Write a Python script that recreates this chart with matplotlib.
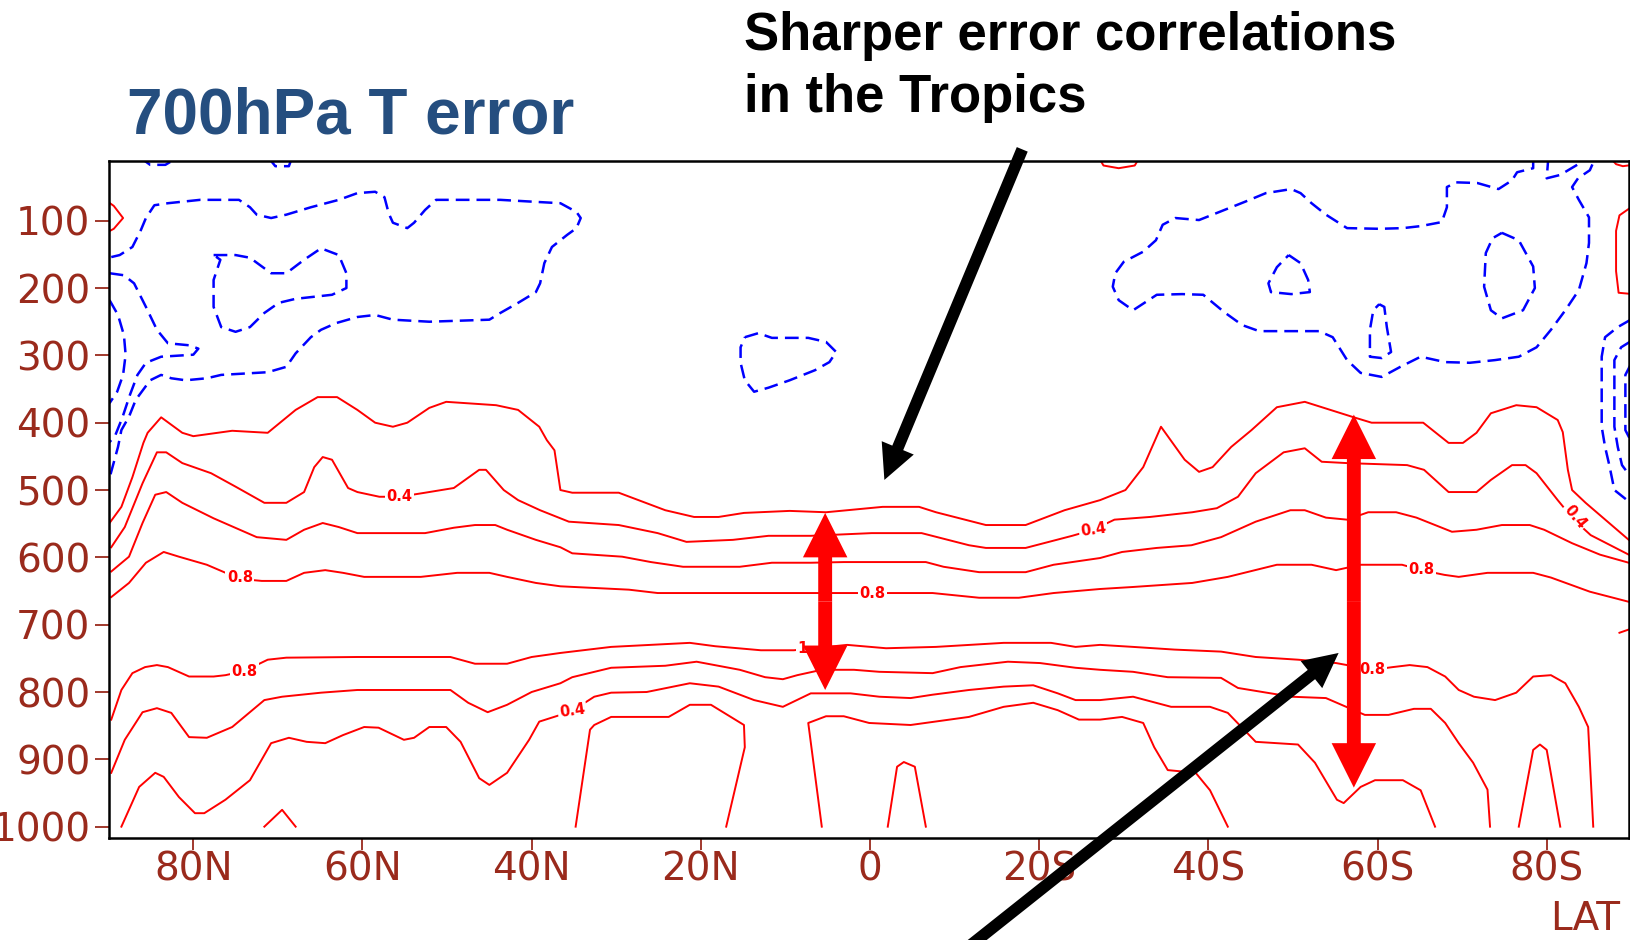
import matplotlib
matplotlib.use("Agg")
import matplotlib.pyplot as plt
from matplotlib.patches import FancyArrowPatch


# positive (red, solid) contours, latitude in degrees (N > 0) and pressure in hPa
U1_LAT = [89.9, 88.5, 87.2, 85.9, 85.4, 83.8, 81.3, 80.0, 75.4, 71.2, 67.9, 65.3, 63.0, 60.6, 58.5,
          56.4, 54.7, 52.1, 50.1, 44.2, 41.6, 39.1, 38.2, 37.3, 36.6, 35.2, 29.7, 24.2, 20.8, 17.9,
          14.9, 9.5, 5.2, -1.5, -5.8, -7.8, -13.7, -18.4, -23.0, -27.2, -30.2, -32.3, -34.4, -37.2,
          -38.9, -40.5, -42.7, -45.1, -48.1, -51.4, -57.2, -59.3, -65.4, -68.4, -70.1, -71.7, -73.4,
          -76.4, -78.8, -81.3, -81.9, -82.5, -83.0, -84.6, -89.7]
U1_P = [549, 525, 481, 430, 415, 392, 415, 420, 412, 415, 381, 362, 362, 381, 400, 406, 400, 378,
        369, 374, 381, 406, 426, 441, 500, 504, 504, 530, 540, 540, 534, 531, 533, 525, 525, 533,
        552, 552, 530, 515, 500, 466, 406, 455, 473, 466, 436, 411, 377, 369, 392, 400, 400, 430,
        430, 415, 386, 374, 377, 396, 414, 470, 500, 519, 574]

U2_LAT = [89.7, 88.1, 86.0, 84.3, 83.2, 81.3, 77.9, 75.0, 71.6, 69.0, 66.9, 65.7, 64.7, 63.6, 61.7,
          60.6, 58.0, 55.6, 52.6, 49.2, 46.2, 45.4, 43.3, 41.6, 39.0, 35.6, 29.7, 25.1, 21.7, 16.2,
          12.0, 7.0, -0.2, -6.1, -11.7, -13.7, -18.4, -23.9, -26.4, -28.9, -33.1, -38.1, -41.0,
          -43.5, -45.6, -48.9, -51.4, -53.4, -56.4, -63.5, -65.5, -68.4, -71.7, -73.4, -75.9, -77.5,
          -78.8, -81.3, -83.2, -85.2, -89.7]
U2_P = [585, 555, 490, 444, 444, 460, 475, 495, 519, 519, 503, 466, 451, 455, 497, 503, 510, 510,
        504, 497, 470, 470, 500, 515, 530, 547, 552, 564, 577, 574, 568, 568, 564, 564, 582, 586,
        586, 568, 559, 544, 540, 533, 527, 510, 475, 444, 438, 458, 460, 463, 470, 503, 503, 485,
        463, 463, 475, 515, 544, 567, 596]

U3_LAT = [89.7, 87.6, 86.0, 84.5, 83.2, 81.3, 77.6, 72.5, 69.0, 66.9, 64.7, 62.8, 60.6, 52.6, 49.2,
          46.7, 44.3, 42.9, 39.5, 36.6, 35.2, 29.3, 25.9, 22.1, 15.4, 11.6, 7.0, 3.1, -6.6, -8.7,
          -12.9, -18.4, -21.7, -27.2, -29.8, -33.9, -38.0, -41.5, -45.6, -49.7, -51.4, -53.9, -56.4,
          -58.9, -62.2, -64.6, -68.8, -71.7, -74.7, -78.0, -79.7, -83.0, -86.3, -89.7]
U3_P = [621, 599, 549, 507, 503, 519, 542, 570, 574, 559, 549, 555, 564, 564, 556, 552, 552, 559,
        574, 585, 594, 599, 607, 614, 614, 608, 608, 607, 607, 614, 622, 622, 611, 601, 592, 586,
        582, 570, 547, 530, 530, 541, 544, 533, 533, 541, 562, 559, 552, 552, 559, 579, 596, 608]

U4_LAT = [89.7, 87.6, 85.6, 83.5, 81.7, 78.4, 74.5, 71.9, 69.0, 66.9, 64.4, 62.3, 59.8, 53.1, 48.8,
          45.0, 42.9, 39.5, 36.6, 28.5, 25.1, 2.3, -0.3, -3.2, -7.4, -12.9, -17.6, -21.7, -27.2,
          -31.1, -38.1, -42.3, -48.1, -52.2, -55.1, -58.0, -62.9, -65.2, -67.9, -69.6, -73.0, -78.4,
          -80.5, -85.1, -89.7]
U4_P = [659, 638, 608, 592, 599, 611, 632, 635, 635, 623, 619, 623, 629, 629, 623, 623, 629, 638,
        643, 648, 653, 653, 653, 653, 653, 660, 660, 653, 647, 644, 638, 629, 611, 611, 619, 611,
        611, 619, 626, 629, 623, 623, 630, 651, 666]

L1_LAT = [89.7, 88.5, 87.2, 85.7, 84.3, 83.0, 80.5, 77.6, 76.2, 74.0, 71.2, 69.0, 60.6, 49.6, 46.7,
          42.9, 40.0, 36.6, 30.6, 21.3, 18.3, 12.9, 9.0, 2.7, -1.9, -7.8, -15.8, -21.4, -24.3, -27.2,
          -31.1, -36.0, -41.5, -45.6, -50.6, -55.1, -59.4, -61.8, -63.8, -65.9, -68.0, -69.6, -71.4,
          -73.9, -76.4, -78.4, -80.5, -82.2, -83.8, -84.9, -85.5]
L1_P = [841, 797, 772, 763, 760, 763, 777, 777, 775, 769, 752, 749, 748, 748, 758, 758, 748, 742,
        733, 727, 732, 738, 738, 730, 735, 733, 727, 727, 733, 730, 733, 737, 740, 748, 752, 757,
        767, 763, 760, 763, 777, 797, 807, 812, 801, 777, 775, 787, 822, 852, 1000]

L2_LAT = [89.7, 88.1, 86.0, 84.3, 82.6, 80.5, 78.4, 75.4, 71.6, 69.5, 64.9, 60.6, 54.3, 49.6, 47.5,
          45.2, 42.9, 40.0, 36.6, 35.2, 30.6, 24.2, 20.5, 15.4, 12.4, 10.3, 8.6, 5.7, 1.9, -1.1,
          -7.4, -10.7, -16.3, -20.1, -24.3, -27.2, -31.1, -35.2, -41.5, -43.5, -49.8, -53.9, -58.5,
          -61.3, -64.3, -66.3, -68.0, -69.6, -71.3, -73.0, -73.3]
L2_P = [920, 871, 830, 824, 831, 867, 868, 852, 812, 807, 801, 797, 797, 797, 816, 830, 819, 800,
        787, 778, 764, 761, 755, 767, 778, 781, 775, 767, 767, 770, 772, 763, 755, 757, 764, 767,
        770, 778, 779, 794, 807, 809, 834, 834, 825, 825, 846, 876, 905, 945, 1000]

L3_LAT = [88.5, 86.4, 84.5, 83.5, 81.7, 79.8, 78.7, 76.2, 73.3, 70.8, 68.7, 66.6, 64.4, 62.3, 59.8,
          58.1, 55.1, 53.9, 52.1, 50.1, 48.4, 46.2, 45.0, 42.9, 40.3, 39.1, 36.6, 35.2, 32.6, 30.6,
          26.4, 21.3, 17.9, 13.7, 10.3, 7.0, 2.3, -1.1, -4.8, -7.4, -11.7, -15.8, -19.3, -22.2,
          -24.3, -27.2, -31.1, -35.6, -40.2, -42.3, -45.6, -50.6, -52.6, -55.2, -56.0, -58.0, -59.7,
          -63.0, -65.1, -66.8]
L3_P = [1000, 941, 920, 926, 956, 980, 980, 960, 931, 876, 868, 874, 876, 864, 852, 853, 871, 868,
        852, 852, 874, 928, 938, 920, 871, 844, 834, 828, 807, 801, 800, 787, 792, 812, 822, 802,
        802, 807, 809, 804, 797, 792, 790, 802, 812, 812, 807, 822, 822, 831, 874, 878, 905, 960,
        965, 941, 931, 931, 946, 1000]

L4A_LAT = [34.8, 33.1, 32.6, 30.6, 26.4, 23.8, 21.3, 18.8, 14.9, 14.8, 17.0]
L4A_P = [1000, 856, 849, 837, 837, 837, 819, 819, 849, 882, 1000]
L4B_LAT = [5.7, 7.3, 5.2, 3.1, 0.1, -4.8, -11.7, -15.8, -19.3, -22.2, -24.7, -27.2, -29.8, -32.3,
           -33.6, -35.2, -38.5, -40.2, -42.3]
L4B_P = [1000, 846, 836, 836, 846, 849, 837, 822, 816, 827, 841, 841, 837, 846, 882, 916, 920, 946,
         1000]

BUMP_EQ_LAT = [-2.1, -3.2, -4.0, -5.3, -6.6]
BUMP_EQ_P = [1000, 911, 904, 911, 1000]
BUMP_70N_LAT = [71.6, 69.5, 67.9]
BUMP_70N_P = [1000, 975, 1000]
BUMP_80S_LAT = [-76.7, -78.4, -79.2, -80.0, -81.6]
BUMP_80S_P = [1000, 886, 878, 886, 1000]

EDGE_NW_LAT = [90.3, 89.4, 88.3, 89.4, 90.3]
EDGE_NW_P = [70, 78, 96, 112, 118]
TOP_30S_LAT = [-27.0, -27.6, -29.4, -31.3, -31.9]
TOP_30S_P = [5, 18, 22, 18, 5]
TOP_90S_LAT = [-87.4, -88.2, -89.0, -90.2]
TOP_90S_P = [5, 16, 19, 17]
EDGE_SE_LAT = [-90.2, -88.6, -88.2, -88.2, -88.5, -90.2]
EDGE_SE_P = [78, 92, 115, 175, 207, 209]
EDGE_700_LAT = [-88.6, -90.2]
EDGE_700_P = [712, 705]

# negative (blue, dashed) contours
B1_LAT = [89.7, 88.7, 87.2, 86.2, 85.6, 84.6, 83.0, 79.2, 74.6, 73.3, 72.5, 70.8, 69.0, 66.1, 62.8,
          60.6, 58.5, 57.4, 56.9, 56.4, 54.7, 53.9, 52.6, 51.3, 48.4, 43.7, 39.5, 36.6, 34.7, 34.2,
          34.7, 35.8, 37.6, 38.5, 39.0, 39.5, 41.6, 43.7, 45.0, 52.1, 56.4, 58.5, 60.6, 63.1, 64.9,
          66.1, 67.9, 69.0, 71.2, 76.7, 78.4, 80.9, 82.6, 83.8, 85.1, 86.8, 87.6, 88.5, 88.9, 89.9]
B1_P = [154, 151, 139, 114, 96, 77, 74, 69, 69, 80, 91, 96, 91, 80, 69, 59, 57, 65, 89, 103, 111,
        103, 84, 69, 69, 69, 72, 74, 87, 96, 111, 121, 139, 163, 193, 206, 222, 237, 247, 250, 247,
        240, 243, 252, 262, 273, 297, 317, 325, 329, 334, 337, 334, 329, 337, 366, 391, 411, 436,
        482]
B2_LAT = [89.9, 88.2, 87.0, 85.6, 84.3, 83.0, 80.5, 79.4, 80.0, 83.8, 85.6, 86.6, 87.5, 88.4, 89.2,
          89.9]
B2_P = [178, 181, 193, 228, 262, 282, 285, 290, 299, 302, 311, 329, 359, 393, 418, 429]
B3_LAT = [89.9, 88.9, 88.2, 88.0, 88.3, 89.0, 89.9]
B3_P = [218, 240, 270, 299, 329, 354, 371]
B4_LAT = [77.6, 75.0, 73.3, 70.8, 69.0, 66.9, 64.9, 62.8, 61.9, 61.9, 63.6, 67.9, 69.9, 71.6, 73.3,
          75.0, 76.7, 77.6, 77.6, 76.8, 77.6]
B4_P = [151, 151, 155, 178, 178, 158, 141, 151, 178, 200, 210, 216, 222, 237, 258, 265, 258, 228,
        188, 158, 151]
B5_LAT = [14.8, 13.2, 11.6, 7.3, 5.2, 4.0, 4.8, 6.5, 9.5, 12.0, 13.7, 14.8, 15.3, 15.3, 14.8]
B5_P = [273, 267, 274, 274, 280, 295, 310, 322, 337, 348, 354, 337, 311, 288, 273]
B6_LAT = [-78.4, -78.4, -76.5, -75.9, -74.3, -71.8, -69.3, -68.2, -68.2, -67.6, -65.1, -63.0, -60.2,
          -56.4, -53.9, -52.2, -50.9, -49.8, -46.8, -44.3, -41.9, -38.9, -36.1, -34.6, -33.8, -32.3,
          -30.0, -29.0, -28.7, -29.4, -31.1, -33.9, -36.9, -39.4, -41.9, -44.0, -46.0, -53.1, -54.7,
          -56.4, -58.0, -60.5, -62.7, -65.1, -68.0, -70.9, -73.9, -76.7, -78.8, -80.5, -82.2, -83.8,
          -84.7, -85.0, -85.0, -83.8, -83.0, -83.7, -85.1, -85.8]
B6_P = [5, 22, 28, 40, 53, 44, 43, 50, 80, 102, 108, 111, 112, 111, 91, 74, 59, 53, 59, 72, 84, 99,
        96, 106, 129, 146, 161, 178, 198, 218, 233, 210, 209, 210, 236, 255, 264, 264, 273, 307, 326,
        332, 317, 302, 310, 311, 307, 302, 288, 262, 233, 203, 163, 133, 95, 69, 50, 37, 25, 5]
B6_LOBE_LAT = [-80.2, -80.0, -81.6, -83.6, -84.2]
B6_LOBE_P = [5, 37, 32, 17, 5]
B7_LAT = [-49.5, -50.9, -51.8, -52.0, -49.8, -47.4, -47.1, -48.1, -49.5]
B7_P = [151, 163, 188, 206, 209, 206, 193, 169, 151]
B8_LAT = [-60.2, -60.8, -61.1, -61.6, -60.5, -59.1, -59.1, -59.5, -60.2]
B8_P = [224, 228, 258, 295, 304, 302, 262, 233, 224]
B9_LAT = [-74.7, -76.7, -78.4, -78.6, -77.2, -74.7, -73.4, -72.6, -72.8, -73.6, -74.7]
B9_P = [118, 129, 168, 200, 233, 245, 233, 198, 148, 126, 118]
B10_LAT = [-90.2, -88.4, -86.9, -86.5, -86.5, -86.9, -87.4, -88.0, -90.2]
B10_P = [245, 258, 273, 302, 406, 436, 463, 500, 522]
B11_LAT = [-90.2, -88.8, -88.0, -88.0, -88.4, -88.9, -90.2]
B11_P = [277, 288, 307, 406, 436, 463, 485]
B12_LAT = [-90.2, -89.3, -89.3, -90.2]
B12_P = [307, 329, 411, 433]
TOP_85N_LAT = [86.4, 85.1, 83.3, 81.7]
TOP_85N_P = [5, 17, 17, 5]
TOP_70N_LAT = [71.2, 70.3, 68.7, 68.3]
TOP_70N_P = [5, 19, 19, 5]

# contour labels
LABEL_TEXT = ["0.4", "0.4", "0.4", "0.8", "0.8", "0.8", "0.8", "0.8", "0.4", "1"]
LABEL_LAT = [55.6, -26.4, -83.3, 74.5, -0.3, -65.2, 74.0, -59.4, 35.2, 8.0]
LABEL_P = [510, 559, 540, 630, 653, 618, 769, 767, 828, 736]
LABEL_ROT = [0, 8, -50, 0, 0, 0, 0, 0, 8, 0]

XTICKS = [80, 60, 40, 20, 0, -20, -40, -60, -80]
XTICK_LABELS = ["80N", "60N", "40N", "20N", "0", "20S", "40S", "60S", "80S"]
YTICKS = [100, 200, 300, 400, 500, 600, 700, 800, 900, 1000]
YTICK_LABELS = ["100", "200", "300", "400", "500", "600", "700", "800", "900", "1000"]

# annotation arrows (lat, hPa)
RED_ARROW_LAT = [5.3, -57.2]
RED_ARROW_TOP = [534, 388]
RED_ARROW_BOTTOM = [797, 942]
BLACK_ARROW_TAILS = [(-18.0, -6), (-8.4, 1211)]
BLACK_ARROW_TIPS = [(-1.7, 485), (-55.4, 742)]

RED = "#ff0000"
BLUE = "#0000ff"
BROWN = "#9a2a1c"
TITLE_BLUE = "#254e7f"

POSITIVE = [
    (U1_LAT, U1_P), (U2_LAT, U2_P), (U3_LAT, U3_P), (U4_LAT, U4_P),
    (L1_LAT, L1_P), (L2_LAT, L2_P), (L3_LAT, L3_P), (L4A_LAT, L4A_P), (L4B_LAT, L4B_P),
    (BUMP_EQ_LAT, BUMP_EQ_P), (BUMP_70N_LAT, BUMP_70N_P), (BUMP_80S_LAT, BUMP_80S_P),
    (EDGE_NW_LAT, EDGE_NW_P), (TOP_30S_LAT, TOP_30S_P), (TOP_90S_LAT, TOP_90S_P),
    (EDGE_SE_LAT, EDGE_SE_P), (EDGE_700_LAT, EDGE_700_P),
]
NEGATIVE = [
    (B1_LAT, B1_P), (B2_LAT, B2_P), (B3_LAT, B3_P), (B4_LAT, B4_P), (B5_LAT, B5_P),
    (B6_LAT, B6_P), (B6_LOBE_LAT, B6_LOBE_P), (B7_LAT, B7_P), (B8_LAT, B8_P), (B9_LAT, B9_P),
    (B10_LAT, B10_P), (B11_LAT, B11_P), (B12_LAT, B12_P),
    (TOP_85N_LAT, TOP_85N_P), (TOP_70N_LAT, TOP_70N_P),
]


def block_arrow(ax, start, end, color, head, tail):
    style = f"simple,head_length={head},head_width={head},tail_width={tail}"
    ax.add_patch(FancyArrowPatch(start, end, arrowstyle=style, mutation_scale=1,
                                 color=color, lw=0, shrinkA=0, shrinkB=0,
                                 clip_on=False, zorder=6))


plt.rcParams["font.family"] = ["DejaVu Sans"]

fig = plt.figure(figsize=(16.31, 9.40), dpi=100)
ax = fig.add_axes([0.06701, 0.10883, 0.93146, 0.71989])

for lat, p in POSITIVE:
    ax.plot(lat, p, color=RED, lw=1.4, zorder=2)
for lat, p in NEGATIVE:
    ax.plot(lat, p, color=BLUE, lw=1.8, dashes=(5.5, 2.8), zorder=2)

for text, lat, p, rot in zip(LABEL_TEXT, LABEL_LAT, LABEL_P, LABEL_ROT):
    ax.text(lat, p, text, color=RED, fontsize=10.5, fontweight="bold", rotation=rot,
            ha="center", va="center", zorder=3,
            bbox=dict(facecolor="white", edgecolor="none", pad=1.0))

ax.set_xlim(89.93, -89.67)
ax.set_ylim(1016.4, 11.3)
ax.set_xticks(XTICKS)
ax.set_xticklabels(XTICK_LABELS)
ax.set_yticks(YTICKS)
ax.set_yticklabels(YTICK_LABELS)
ax.tick_params(axis="x", length=8.5, width=1.3, color=BROWN, labelcolor=BROWN,
               labelsize=28, pad=0.5)
ax.tick_params(axis="y", length=10, width=1.3, color=BROWN, labelcolor=BROWN,
               labelsize=28, pad=3.5)
for spine in ax.spines.values():
    spine.set_linewidth(1.8)
    spine.set_color("black")

for lat, top, bottom in zip(RED_ARROW_LAT, RED_ARROW_TOP, RED_ARROW_BOTTOM):
    mid = (top + bottom) / 2
    block_arrow(ax, (lat, mid), (lat, top), RED, 32, 10)
    block_arrow(ax, (lat, mid), (lat, bottom), RED, 32, 10)

for tail, tip in zip(BLACK_ARROW_TAILS, BLACK_ARROW_TIPS):
    block_arrow(ax, tail, tip, "black", 25, 8.5)

fig.text(127 / 1631, 1 - 133 / 940, "700hPa T error", fontsize=46, fontweight="bold",
         color=TITLE_BLUE, family="Liberation Sans", va="baseline")
fig.text(744 / 1631, 1 - 50 / 940, "Sharper error correlations", fontsize=38,
         fontweight="bold", color="black", family="Liberation Sans", va="baseline")
fig.text(744 / 1631, 1 - 112 / 940, "in the Tropics", fontsize=38,
         fontweight="bold", color="black", family="Liberation Sans", va="baseline")
fig.text(1620 / 1631, 1 - 930 / 940, "LAT", fontsize=28, color=BROWN,
         ha="right", va="baseline")

fig.savefig("out.png", dpi=100)
